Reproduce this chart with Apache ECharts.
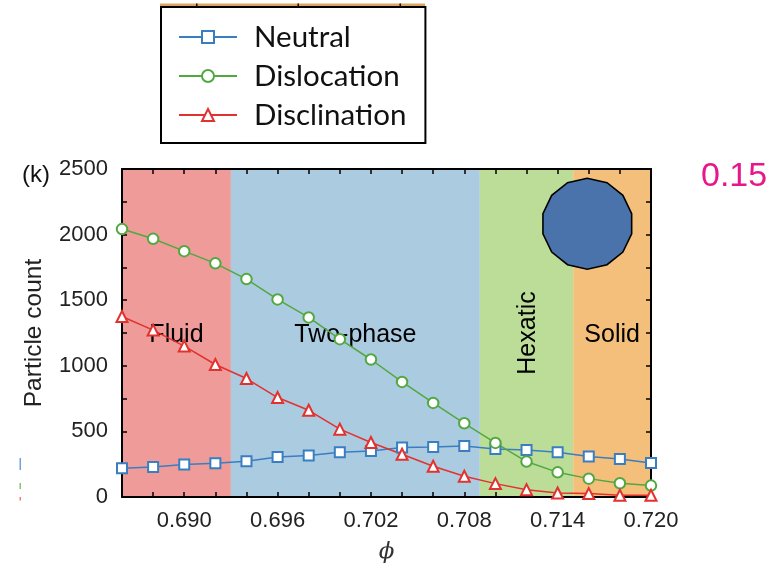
<!DOCTYPE html>
<html>
<head>
<meta charset="utf-8">
<script src="https://cdn.jsdelivr.net/npm/echarts@6/dist/echarts.min.js"></script>
<style>
  html, body { margin: 0; padding: 0; background: #fff; }
  #chart { width: 778px; height: 563px; }
</style>
</head>
<body>
<div id="chart"></div>
<script>
// Packing fraction phi sampled every 0.002
const phi = [0.686, 0.688, 0.690, 0.692, 0.694, 0.696, 0.698, 0.700, 0.702,
             0.704, 0.706, 0.708, 0.710, 0.712, 0.714, 0.716, 0.718, 0.720];

// Defect counts per phi
const neutral = [220, 229, 247, 257, 272, 305, 316, 341, 351,
                 377, 381, 389, 366, 359, 341, 308, 290, 259];
const dislocation = [2042, 1968, 1874, 1781, 1661, 1506, 1369, 1203, 1048,
                     877, 717, 562, 412, 270, 188, 140, 105, 87];
const disclination = [1376, 1272, 1150, 1010, 903, 758, 661, 517, 415,
                      326, 234, 158, 102, 56, 31, 26, 13, 13];

// Phase regions along phi
const phaseEdges = [0.686, 0.693, 0.709, 0.715, 0.720];
const phaseNames = ['Fluid', 'Two-phase', 'Hexatic', 'Solid'];
const phaseLabelRotation = [0, 0, 90, 0];

// Axis ranges and label steps
const xMin = 0.686, xMax = 0.720, xStep = 0.002, xLabelStepMilli = 6;
const yMin = 0, yMax = 2500, yStep = 250, yLabelStep = 500;

const phaseColors = ['#ee9b99', '#abcbe0', '#bcdd97', '#f4bf7a'];
const seriesColors = { Neutral: '#3a7ec2', Dislocation: '#52a840', Disclination: '#e2322f' };

const phaseData = phaseNames.map((n, i) => [phaseEdges[i], phaseEdges[i + 1]]);

const chart = echarts.init(document.getElementById('chart'), null, { renderer: 'canvas' });

const tickFont = 'Liberation Sans';
const axisCommon = {
  z: 5,
  axisLine: { show: true, onZero: false, lineStyle: { color: '#000', width: 2 } },
  axisTick: { show: true, inside: true, length: 5, lineStyle: { color: '#000', width: 1.5 } },
  splitLine: { show: false }
};

function pair(xs, ys) { return xs.map((x, i) => [x, ys[i]]); }

function lineSeries(name, values, symbol, size) {
  return {
    name: name,
    type: 'line',
    z: 10,
    data: pair(phi, values),
    symbol: symbol,
    symbolSize: size,
    showAllSymbol: true,
    color: seriesColors[name],
    lineStyle: { width: 1.5, color: seriesColors[name] },
    itemStyle: { color: seriesColors[name], borderColor: seriesColors[name], borderWidth: 1.6 },
    emphasis: { disabled: true },
    animation: false
  };
}

const option = {
  animation: false,
  grid: { left: 122, top: 169, width: 529, height: 328, containLabel: false, outerBoundsMode: 'none' },
  xAxis: [
    Object.assign({}, axisCommon, {
      type: 'value', position: 'bottom', min: xMin, max: xMax, interval: xStep,
      name: '\u03D5', nameLocation: 'middle', nameGap: 44,
      nameTextStyle: { fontFamily: 'DejaVu Serif', fontStyle: 'italic', fontSize: 23, color: '#333' },
      axisLabel: {
        margin: 13, color: '#222', fontFamily: tickFont, fontSize: 22,
        formatter: v => (Math.round(v * 1000) % xLabelStepMilli === 0 ? v.toFixed(3) : '')
      }
    }),
    Object.assign({}, axisCommon, {
      type: 'value', position: 'top', min: xMin, max: xMax, interval: xStep,
      axisLabel: { show: false }
    })
  ],
  yAxis: [
    Object.assign({}, axisCommon, {
      type: 'value', position: 'left', min: yMin, max: yMax, interval: yStep,
      name: 'Particle count', nameLocation: 'middle', nameGap: 75, nameRotate: 90,
      nameTextStyle: { fontFamily: tickFont, fontSize: 24.5, color: '#222' },
      axisLabel: {
        margin: 14, color: '#222', fontFamily: tickFont, fontSize: 22,
        formatter: v => (v % yLabelStep === 0 ? String(v) : '')
      }
    }),
    Object.assign({}, axisCommon, {
      type: 'value', position: 'right', min: yMin, max: yMax, interval: yStep,
      axisLabel: { show: false }
    })
  ],
  legend: {
    orient: 'vertical',
    left: 161, top: 7,
    padding: [15, 19, 13, 17],
    itemWidth: 58, itemHeight: 15, itemGap: 9,
    backgroundColor: '#fff',
    borderColor: '#000', borderWidth: 2, borderRadius: 0,
    textStyle: { fontFamily: 'Lato', fontSize: 29.5, color: '#111', padding: [0, 0, 0, 12] },
    data: ['Neutral', 'Dislocation', 'Disclination'],
    selectedMode: false
  },
  series: [
    {
      type: 'custom',
      z: 1,
      silent: true,
      clip: true,
      data: phaseData,
      encode: { x: [0, 1] },
      renderItem: function (params, api) {
        const i = params.dataIndex;
        const p0 = api.coord([api.value(0), yMax]);
        const p1 = api.coord([api.value(1), yMin]);
        const rot = phaseLabelRotation[i] * Math.PI / 180;
        // nudge the caps toward the band centre
        const nudge = 2;
        return {
          type: 'group',
          children: [
            {
              type: 'rect',
              shape: { x: p0[0], y: p0[1], width: p1[0] - p0[0], height: p1[1] - p0[1] },
              style: { fill: phaseColors[i] }
            },
            {
              type: 'text',
              x: (p0[0] + p1[0]) / 2 + nudge * Math.sin(rot),
              y: (p0[1] + p1[1]) / 2 + nudge * Math.cos(rot),
              rotation: rot,
              style: {
                text: phaseNames[i], fill: '#000',
                font: '25px "Liberation Sans"',
                align: 'center', verticalAlign: 'middle'
              }
            }
          ]
        };
      }
    },
    lineSeries('Neutral', neutral, 'emptyRect', 10),
    lineSeries('Dislocation', dislocation, 'emptyCircle', 10.5),
    lineSeries('Disclination', disclination, 'emptyTriangle', 11)
  ],
  graphic: [
    {
      type: 'text', z: 50, left: 22, top: 163,
      style: { text: '(k)', font: '24px "Liberation Sans"', fill: '#111' }
    },
    {
      type: 'text', z: 50, left: 701, top: 160,
      style: { text: '0.15', font: '34px "Liberation Sans"', fill: '#e8168a' }
    },
    {
      // polygonal particle outline (14-gon)
      type: 'polygon', z: 50,
      shape: {
        points: Array.from({ length: 14 }, (_, k) => {
          const a = Math.PI / 2 + k * 2 * Math.PI / 14;
          return [587.3 + 45.5 * Math.cos(a), 223.7 - 45.5 * Math.sin(a)];
        })
      },
      style: { fill: '#4b73ab', stroke: '#000', lineWidth: 1.6 }
    },
    // strip of the neighbouring panel frame above
    { type: 'rect', z: 50, shape: { x: 160, y: 3.5, width: 265, height: 2.5 }, style: { fill: '#dfa362' } },
    { type: 'rect', z: 51, shape: { x: 196, y: 3.5, width: 1.5, height: 3.5 }, style: { fill: '#111' } },
    { type: 'rect', z: 51, shape: { x: 297.5, y: 3.5, width: 1.5, height: 3.5 }, style: { fill: '#111' } },
    { type: 'rect', z: 51, shape: { x: 399.5, y: 3.5, width: 1.5, height: 3.5 }, style: { fill: '#111' } },
    // legend line fragments at the left edge
    { type: 'rect', z: 50, shape: { x: 19.5, y: 458, width: 1.5, height: 12 }, style: { fill: '#6fa3d6' } },
    { type: 'rect', z: 50, shape: { x: 19.5, y: 483, width: 1.5, height: 6 }, style: { fill: '#86c478' } },
    { type: 'rect', z: 50, shape: { x: 19.5, y: 497, width: 1.5, height: 3.5 }, style: { fill: '#f27b7b' } }
  ]
};

chart.setOption(option);
</script>
</body>
</html>
